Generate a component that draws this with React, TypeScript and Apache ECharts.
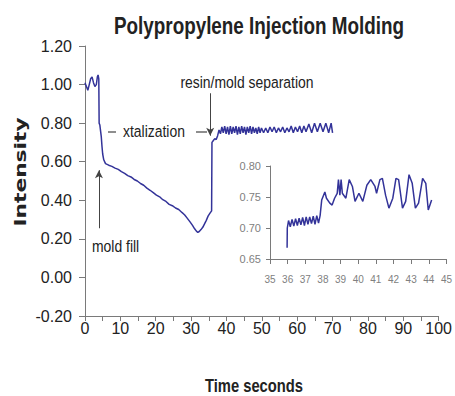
import React, { useEffect, useRef } from "react";
import * as echarts from "echarts";

// ---- data ----
const preFillTime = [0, 0.4, 0.8, 1.2, 1.6, 2.0, 2.4, 2.8, 3.2, 3.5, 3.7, 3.9];
const preFillIntensity = [1.01, 0.99, 0.97, 1.0, 1.03, 1.04, 1.01, 0.99, 1.0, 1.04, 1.05, 1.03];

const coolTime = [4.0, 4.2, 4.4, 4.6, 4.8, 5.0, 5.3, 5.8, 6.7, 7.6, 8.5, 9.4, 10.3, 11.2, 12.1, 13.0, 13.9, 14.8, 15.7, 16.6, 17.5, 18.4, 19.3, 20.2, 21.1, 22.0, 22.9, 23.8, 24.7, 25.6, 26.5, 27.4, 28.2, 29.0, 29.7, 30.4, 31.0, 31.5, 31.9, 32.3, 32.8, 33.3, 33.8, 34.3, 34.8, 35.3, 35.8];
const coolIntensity = [0.80, 0.79, 0.76, 0.73, 0.68, 0.64, 0.61, 0.59, 0.582, 0.576, 0.567, 0.56, 0.549, 0.54, 0.528, 0.521, 0.508, 0.5, 0.487, 0.478, 0.463, 0.452, 0.44, 0.427, 0.418, 0.403, 0.394, 0.379, 0.372, 0.36, 0.352, 0.337, 0.324, 0.305, 0.288, 0.27, 0.252, 0.24, 0.234, 0.238, 0.248, 0.26, 0.278, 0.296, 0.318, 0.332, 0.345];

const sepTime = [35.9, 36.3, 36.7, 37.1, 37.5, 37.9, 38.3, 38.7, 39.1, 39.5, 39.9, 40.3, 40.7, 41.1, 41.5, 41.9, 42.3, 42.7, 43.1, 43.5, 43.9, 44.3, 44.7, 45.1, 45.5, 45.9, 46.3, 46.7, 47.1, 47.5, 47.9, 48.3, 48.7, 49.1, 49.5, 49.9, 50.5, 51.1, 51.7, 52.3, 52.9, 53.5, 54.1, 54.7, 55.3, 55.9, 56.5, 57.1, 57.7, 58.3, 58.9, 59.5, 60.1, 60.7, 61.3, 61.9, 62.5, 63.3, 64.1, 64.9, 65.7, 66.5, 67.3, 68.1, 68.9, 69.6, 70.0];
const sepIntensity = [0.70, 0.71, 0.72, 0.715, 0.735, 0.765, 0.745, 0.78, 0.75, 0.785, 0.745, 0.78, 0.74, 0.785, 0.745, 0.78, 0.75, 0.785, 0.74, 0.78, 0.745, 0.785, 0.75, 0.78, 0.74, 0.78, 0.75, 0.785, 0.745, 0.78, 0.75, 0.775, 0.745, 0.78, 0.75, 0.775, 0.75, 0.775, 0.75, 0.78, 0.755, 0.78, 0.75, 0.775, 0.755, 0.78, 0.75, 0.775, 0.755, 0.785, 0.75, 0.78, 0.755, 0.785, 0.75, 0.785, 0.755, 0.795, 0.75, 0.80, 0.755, 0.80, 0.755, 0.80, 0.75, 0.80, 0.75];

const insetTime = [35.97, 35.98, 36.05, 36.15, 36.25, 36.35, 36.45, 36.55, 36.65, 36.75, 36.85, 36.95, 37.05, 37.15, 37.25, 37.35, 37.45, 37.55, 37.65, 37.75, 37.84, 37.93, 38.11, 38.2, 38.39, 38.52, 38.66, 38.81, 38.88, 38.96, 39.03, 39.1, 39.3, 39.49, 39.67, 39.82, 40.04, 40.26, 40.49, 40.71, 40.95, 41.04, 41.23, 41.37, 41.55, 41.74, 41.96, 42.14, 42.29, 42.51, 42.69, 42.88, 43.06, 43.24, 43.42, 43.65, 43.83, 43.97, 44.16];
const insetIntensity = [0.668, 0.70, 0.712, 0.702, 0.714, 0.703, 0.715, 0.704, 0.716, 0.705, 0.717, 0.704, 0.718, 0.706, 0.718, 0.707, 0.719, 0.706, 0.72, 0.708, 0.72, 0.745, 0.758, 0.748, 0.74, 0.737, 0.748, 0.756, 0.778, 0.753, 0.778, 0.756, 0.748, 0.778, 0.767, 0.743, 0.756, 0.743, 0.769, 0.778, 0.767, 0.756, 0.778, 0.78, 0.753, 0.732, 0.748, 0.78, 0.778, 0.732, 0.743, 0.786, 0.772, 0.732, 0.74, 0.78, 0.772, 0.729, 0.745];

const mainXTicks = { min: 0, max: 100, step: 5 };
const mainYTicks = { min: -0.2, max: 1.2, step: 0.2 };
const insetXTicks = { min: 35, max: 45, step: 1 };
const insetYTicks = { min: 0.65, max: 0.8, step: 0.05 };

const pairs = (t: number[], v: number[]) => t.map((x, i) => [x, v[i]]);

const SANS = "'Liberation Sans', Arial, sans-serif";
const LINE = "#333399";
const AXIS = "#7a7a7a";
const TEXT = "#222";
const NARROW_SCALE = 0.82;

export default function App() {
  const ref = useRef<HTMLDivElement>(null);
  useEffect(() => {
    const chart = echarts.init(ref.current!, null, { renderer: "svg" });
    const mainData = [
      ...pairs(preFillTime, preFillIntensity),
      ...pairs(coolTime, coolIntensity),
      ...pairs(sepTime, sepIntensity),
    ];
    const narrowText = (text: string, x: number, y: number, size: number, align: string, bold = false) => ({
      type: "text",
      x,
      y,
      scaleX: NARROW_SCALE,
      style: {
        text,
        fontFamily: SANS,
        fontSize: size,
        fontWeight: bold ? "bold" : "normal",
        fill: TEXT,
        textAlign: align,
        textVerticalAlign: "middle",
      },
    });
    chart.setOption({
      animation: false,
      backgroundColor: "#fff",
      grid: [
        { left: 85, right: 13, top: 46, bottom: 80 },
        { left: 270, right: 3, top: 166, bottom: 137 },
      ],
      xAxis: [
        {
          type: "value",
          gridIndex: 0,
          min: mainXTicks.min,
          max: mainXTicks.max,
          interval: mainXTicks.step,
          axisLine: { show: true, onZero: false, lineStyle: { color: AXIS } },
          axisTick: { show: true, length: 5, lineStyle: { color: AXIS } },
          axisLabel: {
            formatter: (v: number) => (Math.round(v) % 10 === 0 ? String(Math.round(v)) : ""),
            margin: 4,
            fontSize: 16,
            fontFamily: SANS,
            color: TEXT,
          },
          splitLine: { show: false },
        },
        {
          type: "value",
          gridIndex: 1,
          min: insetXTicks.min,
          max: insetXTicks.max,
          interval: insetXTicks.step,
          axisLine: { show: true, onZero: false, lineStyle: { color: AXIS } },
          axisTick: { show: true, length: 5, lineStyle: { color: AXIS } },
          axisLabel: { margin: 15, fontSize: 10, fontFamily: SANS, color: "#808080" },
          splitLine: { show: false },
        },
      ],
      yAxis: [
        {
          type: "value",
          gridIndex: 0,
          min: mainYTicks.min,
          max: mainYTicks.max,
          interval: mainYTicks.step,
          axisLine: { show: true, onZero: false, lineStyle: { color: AXIS } },
          axisTick: { show: true, length: 6, lineStyle: { color: AXIS } },
          axisLabel: {
            formatter: (v: number) => v.toFixed(2),
            margin: 13,
            fontSize: 16,
            fontFamily: SANS,
            color: TEXT,
          },
          splitLine: { show: false },
        },
        {
          type: "value",
          gridIndex: 1,
          min: insetYTicks.min,
          max: insetYTicks.max,
          interval: insetYTicks.step,
          axisLine: { show: true, onZero: false, lineStyle: { color: AXIS } },
          axisTick: { show: true, length: 4, lineStyle: { color: AXIS } },
          axisLabel: {
            formatter: (v: number) => v.toFixed(2),
            margin: 9,
            fontSize: 11,
            fontFamily: SANS,
            color: "#808080",
          },
          splitLine: { show: false },
        },
      ],
      series: [
        {
          type: "line",
          xAxisIndex: 0,
          yAxisIndex: 0,
          data: mainData,
          showSymbol: false,
          lineStyle: { color: LINE, width: 1.5 },
          silent: true,
          markLine: {
            silent: true,
            symbol: ["none", "arrow"],
            symbolSize: [6, 8],
            label: { show: false },
            lineStyle: { color: "#444", width: 1, type: "solid" },
            data: [
              [{ coord: [3.94, 0.255] }, { coord: [3.94, 0.556] }],
              [{ coord: [35.4, 0.955] }, { coord: [35.4, 0.735] }],
            ],
          },
        },
        {
          type: "line",
          xAxisIndex: 1,
          yAxisIndex: 1,
          data: pairs(insetTime, insetIntensity),
          showSymbol: false,
          lineStyle: { color: LINE, width: 1.5 },
          silent: true,
        },
      ],
      graphic: [
        narrowText("Polypropylene Injection Molding", 259, 26, 23, "center", true),
        narrowText("resin/mold separation", 247, 82, 17, "center"),
        narrowText("xtalization", 123, 131, 17, "left"),
        { type: "line", shape: { x1: 108, y1: 132, x2: 116, y2: 132 }, style: { stroke: "#444", lineWidth: 1.2 } },
        { type: "line", shape: { x1: 196, y1: 132, x2: 207, y2: 132 }, style: { stroke: "#444", lineWidth: 1.2 } },
        narrowText("mold fill", 92, 246, 17, "left"),
        narrowText("Time seconds", 254, 385, 18, "center", true),
        {
          type: "text",
          x: 21,
          y: 172,
          rotation: Math.PI / 2,
          scaleX: 1.36,
          style: { text: "Intensity", fontFamily: "'DejaVu Sans', sans-serif", fontWeight: "bold", fontSize: 16, fill: TEXT, textAlign: "center", textVerticalAlign: "middle" },
        },
      ],
    });
    return () => chart.dispose();
  }, []);
  return (
    <div
      ref={ref}
      style={{ position: "absolute", left: 0, top: 0, width: 455, height: 396, background: "#fff" }}
    />
  );
}
